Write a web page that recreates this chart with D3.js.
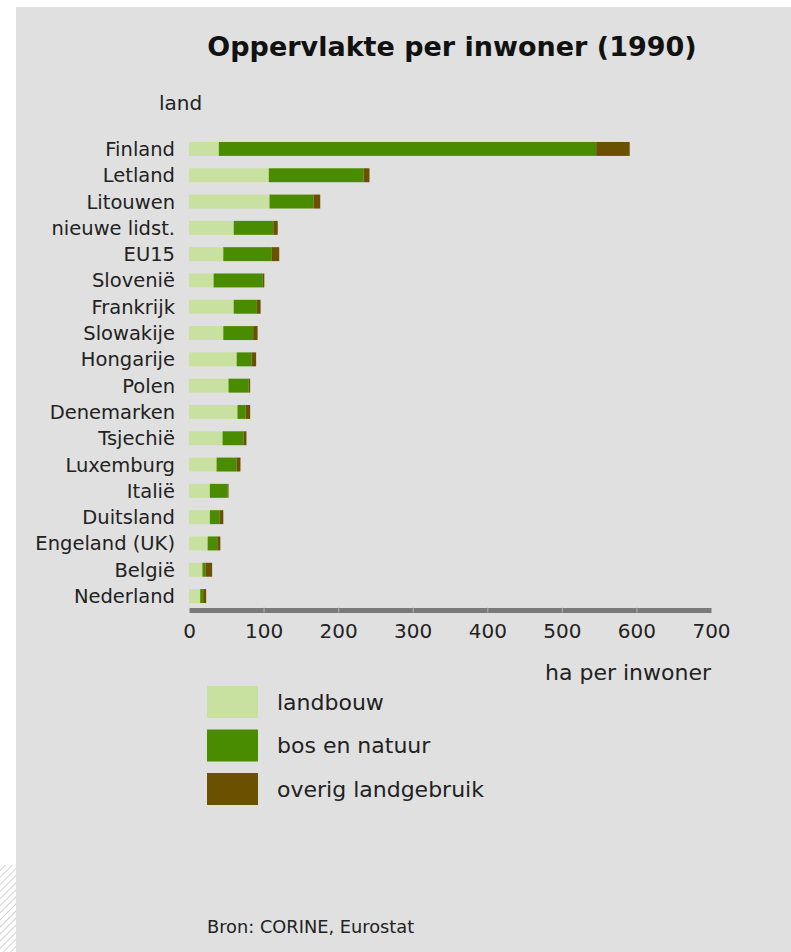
<!DOCTYPE html>
<html>
<head>
<meta charset="utf-8">
<script src="https://cdn.jsdelivr.net/npm/d3@7"></script>
<style>
  body { margin: 0; background: #fff; }
  svg { display: block; font-family: "DejaVu Sans", Verdana, sans-serif; }
</style>
</head>
<body>
<svg id="chart"></svg>
<script>
// data (ha per inwoner, 1990)
const categories = ["Finland", "Letland", "Litouwen", "nieuwe lidst.", "EU15", "Slovenië",
    "Frankrijk", "Slowakije", "Hongarije", "Polen", "Denemarken", "Tsjechië",
    "Luxemburg", "Italië", "Duitsland", "Engeland (UK)", "België", "Nederland"]
const landbouw = [40, 107, 108, 60, 46, 33, 60, 46, 64, 53, 65, 45, 37, 28, 28, 25, 18, 15]
const bosNatuur = [506, 127, 59, 53, 65, 66, 31, 40, 20, 27, 11, 28, 27, 24, 13, 13, 4, 4]
const overig = [45, 8, 9, 6, 10, 2, 5, 6, 6, 2, 6, 4, 5, 1, 5, 4, 9, 4]
const seriesNames = ["landbouw", "bos en natuur", "overig landgebruik"]
const xTicks = [0, 100, 200, 300, 400, 500, 600, 700]

const width = 791, height = 952
const colors = ["#c8e0a0", "#4a8c00", "#6b5000"]

const svg = d3.select("#chart")
    .attr("width", width)
    .attr("height", height)

// pattern for the hatched corner bottom left
const defs = svg.append("defs")
const pat = defs.append("pattern")
    .attr("id", "hatch")
    .attr("patternUnits", "userSpaceOnUse")
    .attr("width", 5).attr("height", 5)
    .attr("patternTransform", "rotate(45)")
pat.append("rect").attr("width", 5).attr("height", 5).attr("fill", "#fff")
pat.append("line").attr("x1", 0).attr("y1", 0).attr("x2", 0).attr("y2", 5)
    .attr("stroke", "#c4c4c4").attr("stroke-width", 1.5)

svg.append("rect").attr("x", 0).attr("y", 865).attr("width", 16).attr("height", height - 865)
    .attr("fill", "url(#hatch)")

// grey panel
svg.append("rect")
    .attr("x", 16).attr("y", 7)
    .attr("width", width - 16).attr("height", height - 7)
    .attr("fill", "#e0e0e0")

// title
svg.append("text")
    .attr("x", 452).attr("y", 56)
    .attr("text-anchor", "middle")
    .attr("font-size", 27)
    .attr("font-weight", "bold")
    .attr("fill", "#111")
    .text("Oppervlakte per inwoner (1990)")

// scales
const x = d3.scaleLinear()
    .domain([0, 700])
    .range([189, 711])

const y = d3.scaleBand()
    .domain(categories)
    .range([135.8, 609.2])
    .paddingInner(0.47)
    .paddingOuter(0.235)

// stack the three series
const rows = categories.map((c, i) => ({
    land: c,
    "landbouw": landbouw[i],
    "bos en natuur": bosNatuur[i],
    "overig landgebruik": overig[i]
}))
const stacked = d3.stack().keys(seriesNames)(rows)

svg.append("g")
    .selectAll("g")
    .data(stacked)
    .join("g")
    .attr("fill", (d, i) => colors[i])
    .selectAll("rect")
    .data(d => d)
    .join("rect")
    .attr("x", d => x(d[0]))
    .attr("y", d => y(d.data.land))
    .attr("width", d => x(d[1]) - x(d[0]))
    .attr("height", y.bandwidth())

// category labels
svg.append("g")
    .selectAll("text")
    .data(categories)
    .join("text")
    .attr("x", 175)
    .attr("y", d => y(d) + y.bandwidth() / 2)
    .attr("dy", "0.36em")
    .attr("text-anchor", "end")
    .attr("font-size", 19.5)
    .attr("fill", "#222")
    .text(d => d)

svg.append("text")
    .attr("x", 159).attr("y", 110)
    .attr("font-size", 20)
    .attr("fill", "#222")
    .text("land")

// x axis: thick grey bar with light separators
const axisY = 610
const xAxis = d3.axisBottom(x).tickValues(xTicks).tickSize(0).tickPadding(14)
const ax = svg.append("g")
    .attr("transform", `translate(0,${axisY})`)
    .call(xAxis)
ax.select(".domain")
    .attr("stroke", "#7a7a7a")
    .attr("stroke-width", 5)
ax.selectAll(".tick text")
    .attr("font-size", 20)
    .attr("font-family", "DejaVu Sans, Verdana, sans-serif")
    .attr("fill", "#222")
ax.selectAll(".tick")
    .filter(d => d > 0 && d < 700)
    .append("line")
    .attr("y1", -2.5).attr("y2", 2.5)
    .attr("stroke", "#b4b4b4")
    .attr("stroke-width", 1)

svg.append("text")
    .attr("x", 711).attr("y", 680)
    .attr("text-anchor", "end")
    .attr("font-size", 22)
    .attr("fill", "#222")
    .text("ha per inwoner")

// legend
const legend = svg.append("g")
    .selectAll("g")
    .data(seriesNames)
    .join("g")
    .attr("transform", (d, i) => `translate(207,${686 + i * 43.5})`)
legend.append("rect")
    .attr("width", 51).attr("height", 32)
    .attr("fill", (d, i) => colors[i])
legend.append("text")
    .attr("x", 70).attr("y", 16)
    .attr("dy", "0.36em")
    .attr("font-size", 22)
    .attr("fill", "#222")
    .text(d => d)

// source
svg.append("text")
    .attr("x", 207).attr("y", 933)
    .attr("font-size", 17.8)
    .attr("fill", "#222")
    .text("Bron: CORINE, Eurostat")
</script>
</body>
</html>
